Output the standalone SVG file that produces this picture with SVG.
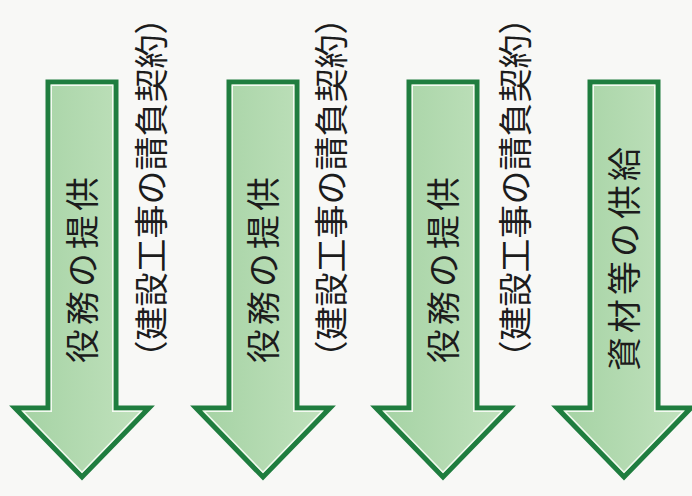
<svg xmlns="http://www.w3.org/2000/svg" xmlns:xlink="http://www.w3.org/1999/xlink" width="692" height="496" viewBox="0 0 692 496">
  <style>
    .outline { fill: url(#fillGrad); stroke: #1f7d3f; stroke-width: 5; stroke-linejoin: miter; }
    .inner { fill: none; stroke: #f4faf2; stroke-width: 1.4; stroke-linejoin: miter; }
    .atext { font-family: "Noto Sans CJK JP", "Noto Sans CJK SC", sans-serif; font-size: 34px; letter-spacing: 4px; fill: #1c1c1c; text-anchor: middle; dominant-baseline: central; }
    .ltext { font-family: "Noto Sans CJK JP", "Noto Sans CJK SC", sans-serif; font-size: 34px; fill: #1c1c1c; text-anchor: middle; dominant-baseline: central; }
  </style>
  <defs>
    <linearGradient id="fillGrad" x1="0" y1="0" x2="1" y2="0">
      <stop offset="0" stop-color="#a4d2a3"/>
      <stop offset="1" stop-color="#c2e2be"/>
    </linearGradient>
    <path id="arrowOuter" d="M-34,82 L34,82 L34,408 L67,408 L0,477 L-67,408 L-34,408 Z"/>
    <path id="arrowInner" d="M-30.7,85.3 L30.7,85.3 L30.7,411.3 L58.9,411.3 L0,472.3 L-58.9,411.3 L-30.7,411.3 Z"/>
  </defs>
  <rect x="0" y="0" width="692" height="496" fill="#f8f8f6"/>

  <g id="connectors">
    <g id="arrow1">
      <use xlink:href="#arrowOuter" href="#arrowOuter" x="82" class="outline"/>
      <use xlink:href="#arrowInner" href="#arrowInner" x="82" class="inner"/>
      <text class="atext" transform="translate(80,268) rotate(-90)">役務の提供</text>
    </g>
    <g id="arrow2">
      <use xlink:href="#arrowOuter" href="#arrowOuter" x="263" class="outline"/>
      <use xlink:href="#arrowInner" href="#arrowInner" x="263" class="inner"/>
      <text class="atext" transform="translate(261,268) rotate(-90)">役務の提供</text>
    </g>
    <g id="arrow3">
      <use xlink:href="#arrowOuter" href="#arrowOuter" x="443" class="outline"/>
      <use xlink:href="#arrowInner" href="#arrowInner" x="443" class="inner"/>
      <text class="atext" transform="translate(441,268) rotate(-90)">役務の提供</text>
    </g>
    <g id="arrow4">
      <use xlink:href="#arrowOuter" href="#arrowOuter" x="624" class="outline"/>
      <use xlink:href="#arrowInner" href="#arrowInner" x="624" class="inner"/>
      <text class="atext" transform="translate(622,257) rotate(-90)">資材等の供給</text>
    </g>
  </g>

  <g id="label1">
    <text class="ltext" transform="translate(149,187.5) rotate(-90)">（建設工事の請負契約）</text>
  </g>
  <g id="label2">
    <text class="ltext" transform="translate(329,187.5) rotate(-90)">（建設工事の請負契約）</text>
  </g>
  <g id="label3">
    <text class="ltext" transform="translate(513,187.5) rotate(-90)">（建設工事の請負契約）</text>
  </g>
</svg>
